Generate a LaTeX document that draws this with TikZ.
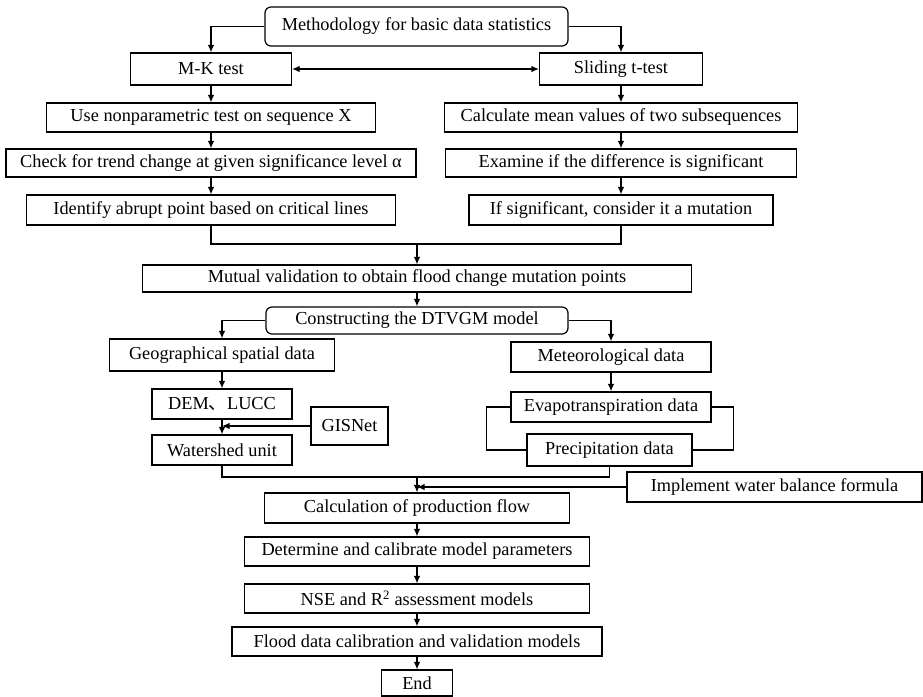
\documentclass[tikz,border=0pt]{standalone}
\usepackage{fontspec}
\setmainfont{Liberation Serif}
\newfontfamily\cjk{Noto Sans CJK SC}
\usetikzlibrary{arrows.meta}
\begin{document}
\begin{tikzpicture}[x=1pt,y=-1pt,
 box/.style={draw, line width=1.2pt, inner sep=0pt, font=\fontsize{18.3}{20}\selectfont, align=center},
 rbox/.style={box, rounded corners=6pt},
 arr/.style={-{Latex[length=7.5pt,width=6.5pt]}, line width=1.2pt},
 darr/.style={{Latex[length=7.5pt,width=6.5pt]}-{Latex[length=7.5pt,width=6.5pt]}, line width=1.2pt},
 ln/.style={line width=1.2pt}]
\useasboundingbox (0,0) rectangle (923,696);
% top part
\node[rbox, minimum width=303pt, minimum height=39pt] (top) at (416.5,26.5) {Methodology for basic data statistics};
\node[box, minimum width=161pt, minimum height=32pt] (mk) at (211,69) {M-K test};
\node[box, minimum width=163pt, minimum height=32pt] (st) at (621,69) {Sliding t-test};
\node[box, minimum width=329pt, minimum height=29pt] (use) at (211,117.5) {Use nonparametric test on sequence X};
\node[box, minimum width=353pt, minimum height=29pt] (calc) at (621,117.5) {Calculate mean values of two subsequences};
\node[box, minimum width=410pt, minimum height=28pt] (check) at (211,163) {Check for trend change at given significance level α};
\node[box, minimum width=351pt, minimum height=28pt] (exam) at (621,163) {Examine if the difference is significant};
\node[box, minimum width=369pt, minimum height=30pt] (ident) at (211,210) {Identify abrupt point based on critical lines};
\node[box, minimum width=304pt, minimum height=30pt] (ifsig) at (621,210) {If significant, consider it a mutation};
\node[box, minimum width=549pt, minimum height=27pt] (mutual) at (417,278.5) {Mutual validation to obtain flood change mutation points};
\node[rbox, minimum width=302pt, minimum height=27pt] (dtvgm) at (417,320.5) {Constructing the DTVGM model};
% left branch
\node[box, minimum width=225pt, minimum height=32pt] (geo) at (222,355) {Geographical spatial data};
\node[box, minimum width=140pt, minimum height=30pt] (dem) at (222,404) {DEM{\cjk 、}LUCC};
\node[box, minimum width=77pt, minimum height=38pt] (gis) at (349.5,426) {GISNet};
\node[box, minimum width=140pt, minimum height=30pt] (ws) at (222,450) {Watershed unit};
% right branch
\node[box, minimum width=200pt, minimum height=30pt] (met) at (611,357) {Meteorological data};
\node[box, minimum width=200pt, minimum height=30pt] (evap) at (611,407) {Evapotranspiration data};
\node[box, minimum width=165pt, minimum height=32pt] (prec) at (609.5,450) {Precipitation data};
% bottom column
\node[box, minimum width=295pt, minimum height=30pt] (impl) at (774.5,487) {Implement water balance formula};
\node[box, minimum width=305pt, minimum height=30pt] (prod) at (417,508) {Calculation of production flow};
\node[box, minimum width=345pt, minimum height=29pt] (det) at (417,551.5) {Determine and calibrate model parameters};
\node[box, minimum width=345pt, minimum height=29pt] (nse) at (417,598.5) {NSE and R\textsuperscript{2} assessment models};
\node[box, minimum width=370pt, minimum height=29pt] (flood) at (417,641.5) {Flood data calibration and validation models};
\node[box, minimum width=71pt, minimum height=26pt] (end) at (417,683) {End};
% coordinates
\coordinate (m1) at (417,244);
\coordinate (g1) at (222,426);
\coordinate (m2) at (417,477);
\coordinate (m3) at (417,487);
% connectors
\draw[arr] (top.west) -| (mk.north);
\draw[arr] (top.east) -| (st.north);
\draw[darr] (mk.east) -- (st.west);
\draw[arr] (mk) -- (use);
\draw[arr] (use) -- (check);
\draw[arr] (check) -- (ident);
\draw[arr] (st) -- (calc);
\draw[arr] (calc) -- (exam);
\draw[arr] (exam) -- (ifsig);
\draw[ln] (ident.south) |- (m1) -| (ifsig.south);
\draw[arr] (m1) -- (mutual.north);
\draw[arr] (mutual) -- (dtvgm);
\draw[arr] (dtvgm.west) -| (geo.north);
\draw[arr] (dtvgm.east) -| (met.north);
\draw[arr] (geo) -- (dem);
\draw[arr] (dem) -- (ws);
\draw[arr] (gis.west) -- (g1);
\draw[arr] (met) -- (evap);
\draw[ln] (evap.west) -- ++(-24,0) |- (prec.west);
\draw[ln] (evap.east) -- ++(22,0) |- (prec.east);
\draw[ln] (ws.south) |- (m2) -| (prec.south);
\draw[arr] (m2) -- (prod.north);
\draw[arr] (impl.west) -- (m3);
\draw[arr] (prod) -- (det);
\draw[arr] (det) -- (nse);
\draw[arr] (nse) -- (flood);
\draw[arr] (flood) -- (end);
\end{tikzpicture}
\end{document}
